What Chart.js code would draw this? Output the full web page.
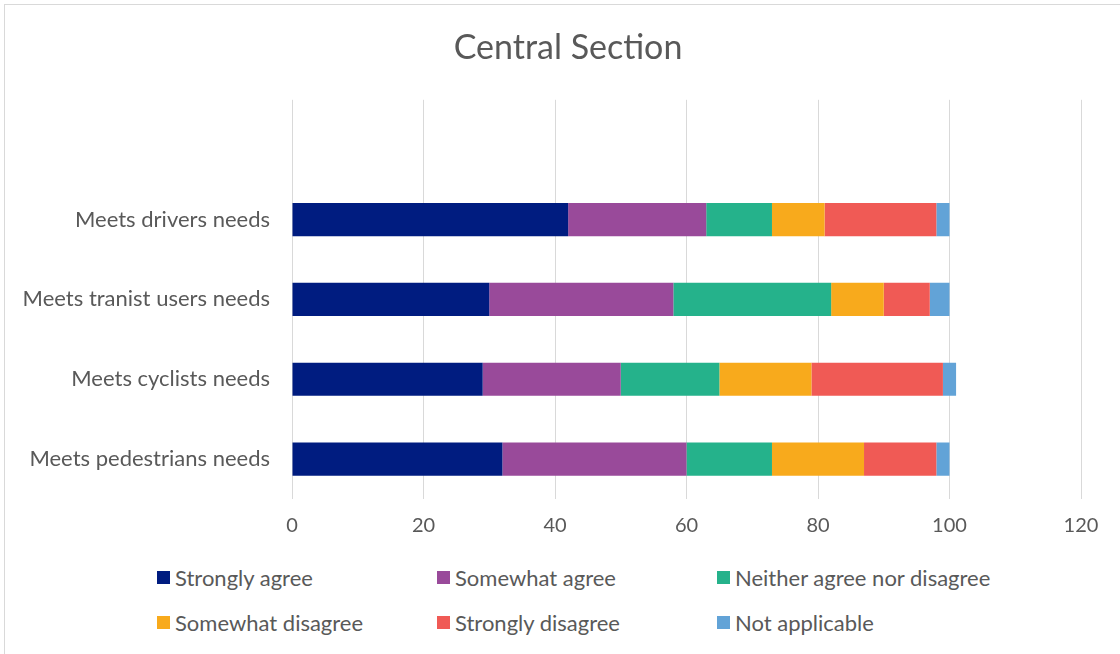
<!DOCTYPE html>
<html>
<head>
<meta charset="utf-8">
<script src="https://cdn.jsdelivr.net/npm/chart.js@4.4.1/dist/chart.umd.min.js"></script>
<style>
  html, body { margin: 0; padding: 0; background: #fff; }
  #frame {
    position: absolute; left: 4px; top: 4px; width: 1130px; height: 660px;
    border: 1px solid #d9d9d9; box-sizing: border-box;
  }
  #wrap { position: absolute; left: 0; top: 0; width: 1120px; height: 553px; }
  #legend {
    position: absolute; left: 157px; top: 564px;
    display: grid; grid-template-columns: 280px 280px 280px; row-gap: 19px;
    font-family: Lato, "Noto Sans", sans-serif;
    font-size: 22px; color: #595959;
  }
  #legend div { display: flex; align-items: center; height: 26px; white-space: nowrap; }
  #legend span.box { display: inline-block; width: 13px; height: 13px; margin-right: 5px; }
</style>
</head>
<body>
<div id="frame"></div>
<div id="wrap"><canvas id="chart"></canvas></div>
<div id="legend"></div>
<script>
// Survey results for the central section, in percent
const categorias = ["Meets drivers needs", "Meets tranist users needs", "Meets cyclists needs", "Meets pedestrians needs"];

const fortementeConcorda = [42, 30, 29, 32];
const concordaEmParte    = [21, 28, 21, 28];
const neutro             = [10, 24, 15, 13];
const discordaEmParte    = [8, 8, 14, 14];
const fortementeDiscorda = [17, 7, 20, 11];
const naoAplicavel       = [2, 3, 2, 2];

const ticksX = [0, 20, 40, 60, 80, 100, 120];

const fonte = 'Lato, "Noto Sans", sans-serif';

const series = [
  { label: "Strongly agree",              data: fortementeConcorda, cor: "#001c80" },
  { label: "Somewhat agree",              data: concordaEmParte,    cor: "#994a9a" },
  { label: "Neither agree nor disagree",  data: neutro,             cor: "#25b28b" },
  { label: "Somewhat disagree",           data: discordaEmParte,    cor: "#f8aa1c" },
  { label: "Strongly disagree",           data: fortementeDiscorda, cor: "#f05a55" },
  { label: "Not applicable",              data: naoAplicavel,       cor: "#62a3d7" }
];

// empty slot on top leaves the blank band above the first bar
const rotulos = [""].concat(categorias);

// keeps the title centred on the whole frame, not on the padded box
const tituloCentro = {
  id: "tituloCentro",
  afterLayout(chart) {
    const t = chart.titleBlock;
    if (t) { t.left = 16; t.right = chart.width; }
  }
};

const ctx = document.getElementById("chart");
new Chart(ctx, {
  type: "bar",
  data: {
    labels: rotulos,
    datasets: series.map(s => ({
      label: s.label,
      data: [null].concat(s.data),
      backgroundColor: s.cor,
      borderWidth: 0,
      barPercentage: 0.415,
      categoryPercentage: 1
    }))
  },
  options: {
    indexAxis: "y",
    responsive: true,
    maintainAspectRatio: false,
    animation: false,
    layout: { padding: { left: 0, right: 39, top: 0, bottom: 0 } },
    plugins: {
      legend: { display: false },
      tooltip: { enabled: false },
      title: {
        display: true,
        text: "Central Section",
        color: "#595959",
        font: { family: fonte, size: 34, weight: "normal" },
        padding: { top: 28, bottom: 31 }
      }
    },
    scales: {
      x: {
        stacked: true,
        min: 0,
        max: 120,
        afterBuildTicks: axis => { axis.ticks = ticksX.map(v => ({ value: v })); },
        grid: { color: "#d9d9d9", lineWidth: 1, drawTicks: false },
        border: { display: false },
        ticks: { color: "#595959", font: { family: fonte, size: 20 }, padding: 15 }
      },
      y: {
        stacked: true,
        afterFit: axis => { axis.width = 292; },
        grid: { display: false, drawTicks: false },
        border: { display: false },
        ticks: { color: "#595959", font: { family: fonte, size: 22 }, padding: 22 }
      }
    }
  },
  plugins: [tituloCentro]
});

// Legend in a fixed three-column grid
const legenda = document.getElementById("legend");
series.forEach(s => {
  const item = document.createElement("div");
  item.innerHTML = `<span class="box" style="background:${s.cor}"></span>${s.label}`;
  legenda.appendChild(item);
});
</script>
</body>
</html>
